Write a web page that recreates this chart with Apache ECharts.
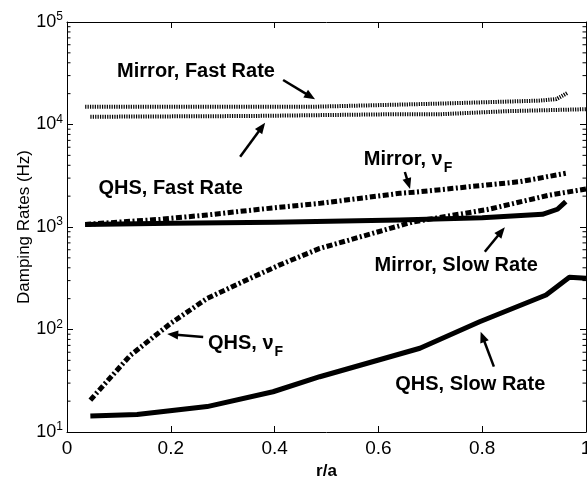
<!DOCTYPE html>
<html>
<head>
<meta charset="utf-8">
<script src="https://cdn.jsdelivr.net/npm/echarts@6/dist/echarts.min.js"></script>
<style>
  html, body { margin: 0; padding: 0; background: #fff; }
  #chart { width: 587px; height: 478px; }
</style>
</head>
<body>
<div id="chart"></div>
<script>
// Damping rates vs normalised radius r/a (QHS and Mirror configurations)

const xTickLabels = ['0', '0.2', '0.4', '0.6', '0.8', '1'];

// QHS, slow rate
const qhsSlowR  = [0.045, 0.135, 0.27, 0.397, 0.487, 0.68, 0.795, 0.923, 0.968, 1.0];
const qhsSlowHz = [14.3, 14.8, 17.7, 24.7, 34.6, 65.6, 119, 217, 323, 316];

// Mirror, slow rate
const mirSlowR  = [0.035, 0.2, 0.4, 0.64, 0.8, 0.916, 0.945, 0.961];
const mirSlowHz = [1060, 1090, 1110, 1170, 1230, 1330, 1490, 1770];

// QHS, nu_F
const qhsNuR  = [0.045, 0.122, 0.2, 0.27, 0.346, 0.41, 0.487, 0.666, 0.81, 0.93, 1.0];
const qhsNuHz = [20.5, 56, 115, 201, 304, 427, 618, 1120, 1480, 2050, 2350];

// Mirror, nu_F
const mirNuR  = [0.035, 0.18, 0.27, 0.372, 0.487, 0.641, 0.68, 0.873, 0.961];
const mirNuHz = [1060, 1190, 1310, 1490, 1700, 2130, 2210, 2770, 3340];

// QHS, fast rate
const qhsFastR  = [0.045, 0.35, 0.63, 0.72, 0.85, 1.0];
const qhsFastHz = [11900, 12100, 12600, 12600, 13500, 14100];

// Mirror, fast rate
const mirFastR  = [0.035, 0.475, 0.72, 0.91, 0.943, 0.964];
const mirFastHz = [14900, 14900, 16000, 17100, 17700, 20300];

// Annotation texts with label anchor, arrow tail and arrow head (r/a, Hz)
const annoText  = ['Mirror, Fast Rate', 'QHS, Fast Rate', 'Mirror, ν', 'QHS, ν', 'Mirror, Slow Rate', 'QHS, Slow Rate'];
const annoSub   = ['', '', 'F', 'F', '', ''];
const annoLabel = [[0.2486, 32700], [0.1998, 2400], [0.657, 4600], [0.344, 73.8], [0.750, 417], [0.777, 29.4]];
const annoTail  = [[0.4164, 27200], [0.3336, 4850], [0.651, 3440], [0.2624, 84.6], [0.805, 574], [0.8225, 43.4]];
const annoHead  = [[0.4780, 17600], [0.3817, 10400], [0.661, 2350], [0.193, 90.3], [0.8436, 993], [0.797, 95.3]];

const FONT = "'Liberation Sans', Arial, Helvetica, sans-serif";

const zip = (xs, ys) => xs.map((x, i) => [x, ys[i]]);

// minor log ticks 2..9 in every decade between 10 and 1e5
const minorTicks = [];
for (let d = 10; d < 100000; d *= 10) {
  for (let m = 2; m <= 9; m++) minorTicks.push([0, m * d]);
}

const chart = echarts.init(document.getElementById('chart'), null, { renderer: 'canvas' });

function lineSeries(name, data, width, dash) {
  return {
    name, type: 'line', data, xAxisIndex: 0, yAxisIndex: 0,
    symbol: 'none', showSymbol: false, silent: true,
    lineStyle: { color: '#000', width, type: dash, cap: 'butt', join: 'round' },
    z: 3
  };
}

const dashDot = [6, 2.5, 2, 2.5];
const dotted = [1.2, 1.2];

chart.setOption({
  animation: false,
  backgroundColor: '#fff',
  grid: { left: 67, right: 1, top: 22, bottom: 46, containLabel: false, outerBoundsMode: 'none' },
  xAxis: [{
    type: 'value', min: 0, max: 1, interval: 0.2, position: 'bottom',
    axisLine: { show: true, onZero: false, lineStyle: { color: '#000', width: 1 } },
    axisTick: { show: true, inside: true, length: 6, lineStyle: { color: '#000', width: 1 } },
    splitLine: { show: false },
    axisLabel: {
      color: '#000', fontFamily: FONT, fontSize: 19, margin: 7,
      formatter: (v, i) => xTickLabels[i]
    },
    name: 'r/a', nameLocation: 'middle', nameGap: 31, nameMoveOverlap: false,
    nameTextStyle: { color: '#000', fontFamily: FONT, fontSize: 17, fontWeight: 'bold' }
  }, {
    type: 'value', min: 0, max: 1, interval: 0.2, position: 'top',
    axisLine: { show: true, onZero: false, lineStyle: { color: '#000', width: 1 } },
    axisTick: { show: true, inside: true, length: 6, lineStyle: { color: '#000', width: 1 } },
    splitLine: { show: false }, axisLabel: { show: false }
  }],
  yAxis: [{
    type: 'log', logBase: 10, min: 10, max: 100000, position: 'left',
    axisLine: { show: true, onZero: false, lineStyle: { color: '#000', width: 1 } },
    axisTick: { show: true, inside: true, length: 6, lineStyle: { color: '#000', width: 1 } },
    splitLine: { show: false },
    axisLabel: {
      margin: 4,
      formatter: v => '{b|10}{s|' + Math.round(Math.log10(v)) + '}',
      rich: {
        b: { color: '#000', fontFamily: FONT, fontSize: 18 },
        s: { color: '#000', fontFamily: FONT, fontSize: 12, padding: [0, 0, 10, 0] }
      }
    },
    name: 'Damping Rates (Hz)', nameLocation: 'middle', nameGap: 34, nameMoveOverlap: false,
    nameTextStyle: { color: '#000', fontFamily: FONT, fontSize: 17 }
  }, {
    type: 'log', logBase: 10, min: 10, max: 100000, position: 'right',
    axisLine: { show: true, onZero: false, lineStyle: { color: '#000', width: 1 } },
    axisTick: { show: true, inside: true, length: 6, lineStyle: { color: '#000', width: 1 } },
    splitLine: { show: false }, axisLabel: { show: false }
  }],
  series: [
    lineSeries('QHS, Slow Rate', zip(qhsSlowR, qhsSlowHz), 5, 'solid'),
    lineSeries('Mirror, Slow Rate', zip(mirSlowR, mirSlowHz), 5, 'solid'),
    lineSeries('QHS, nu_F', zip(qhsNuR, qhsNuHz), 5, dashDot),
    lineSeries('Mirror, nu_F', zip(mirNuR, mirNuHz), 5, dashDot),
    lineSeries('QHS, Fast Rate', zip(qhsFastR, qhsFastHz), 4, dotted),
    lineSeries('Mirror, Fast Rate', zip(mirFastR, mirFastHz), 4, dotted),
    {
      // minor log ticks on the left and right frame edges
      type: 'custom', silent: true, xAxisIndex: 0, yAxisIndex: 0, z: 4,
      data: minorTicks,
      renderItem: (params, api) => {
        const cs = params.coordSys;
        const y = api.coord([0, api.value(1)])[1];
        const len = 3.5;
        const st = { stroke: '#000', lineWidth: 1 };
        return {
          type: 'group', children: [
            { type: 'line', shape: { x1: cs.x, y1: y, x2: cs.x + len, y2: y }, style: st },
            { type: 'line', shape: { x1: cs.x + cs.width - len, y1: y, x2: cs.x + cs.width, y2: y }, style: st }
          ]
        };
      }
    },
    {
      // annotation labels with arrows
      type: 'custom', silent: true, xAxisIndex: 0, yAxisIndex: 0, z: 5,
      data: annoText.map((t, i) => [annoLabel[i][0], annoLabel[i][1]]),
      renderItem: (params, api) => {
        const i = params.dataIndex;
        const lp = api.coord(annoLabel[i]);
        const tp = api.coord(annoTail[i]);
        const hp = api.coord(annoHead[i]);
        const dx = hp[0] - tp[0], dy = hp[1] - tp[1];
        const L = Math.sqrt(dx * dx + dy * dy);
        const ux = dx / L, uy = dy / L;
        const px = -uy, py = ux;
        const headLen = 11, headW = 9;
        const bx = hp[0] - ux * headLen, by = hp[1] - uy * headLen;
        const txt = annoSub[i] ? '{a|' + annoText[i] + '}{s|' + annoSub[i] + '}' : '{a|' + annoText[i] + '}';
        return {
          type: 'group', children: [
            {
              type: 'line',
              shape: { x1: tp[0], y1: tp[1], x2: bx + ux * 2, y2: by + uy * 2 },
              style: { stroke: '#000', lineWidth: 2.5 }
            },
            {
              type: 'polygon',
              shape: { points: [[hp[0], hp[1]], [bx + px * headW / 2, by + py * headW / 2], [bx - px * headW / 2, by - py * headW / 2]] },
              style: { fill: '#000' }
            },
            {
              type: 'text', x: lp[0], y: lp[1],
              style: {
                text: txt, align: 'center', verticalAlign: 'middle',
                rich: {
                  a: { fill: '#000', font: 'bold 20px ' + FONT },
                  s: { fill: '#000', font: 'bold 14px ' + FONT, padding: [18, 0, 0, 1] }
                }
              }
            }
          ]
        };
      }
    }
  ]
});
</script>
</body>
</html>
